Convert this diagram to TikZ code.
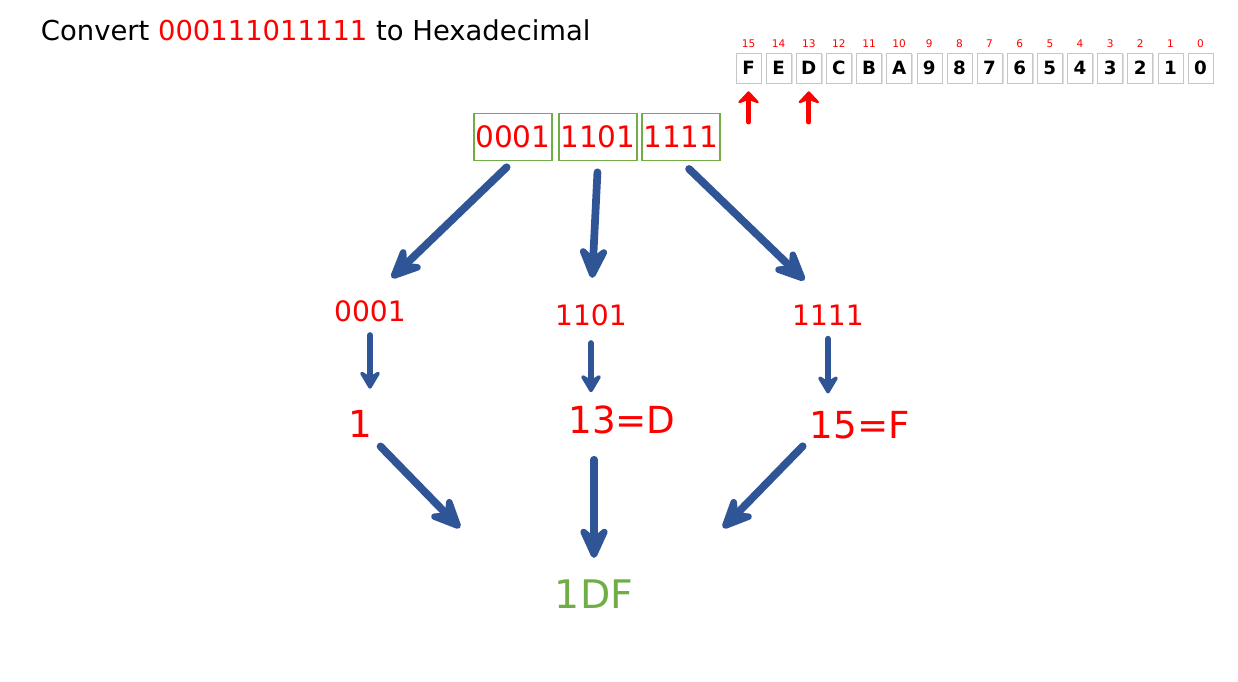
\documentclass[tikz,border=0pt]{standalone}
\usepackage{fontspec}
\setmainfont{DejaVu Sans}
\usetikzlibrary{arrows.meta,shadows}
\definecolor{arrowblue}{RGB}{47,85,151}
\definecolor{boxgreen}{RGB}{112,173,71}

\begin{document}
\begin{tikzpicture}[x=0.025cm,y=-0.025cm,
    big arrow/.style={draw=arrowblue,line width=5.5pt,line cap=round,
      -{Stealth[length=1.05cm,width=0.95cm,inset=0.4cm,round]}},
    small arrow/.style={draw=arrowblue,line width=4.5pt,line cap=round,
      -{Stealth[length=0.55cm,width=0.65cm,inset=0.2cm,round]}},
    up arrow/.style={draw=red,line width=3.5pt,line cap=round,
      -{Stealth[length=0.35cm,width=0.65cm,inset=0.12cm,round]}},
    nibble/.style={text=red,font=\fontsize{20}{24}\selectfont,inner sep=1pt},
    nibble box/.style={nibble,font=\fontsize{21}{24}\selectfont,draw=boxgreen,thick,
      minimum width=1.95cm,minimum height=1.18cm},
    result/.style={text=red,font=\fontsize{26.5}{30}\selectfont,inner sep=1pt},
    hex box/.style={draw=gray!45,fill=white,minimum width=0.625cm,minimum height=0.75cm,
      drop shadow={shadow xshift=1pt,shadow yshift=-1pt,opacity=0.25},
      inner sep=0pt,font=\bfseries\fontsize{13}{14}\selectfont},
    ]
    \useasboundingbox (0,0) rectangle (1238,682);
    \node[anchor=west,font=\fontsize{19.5}{23}\selectfont] (title) at (36,30)
      {Convert \textcolor{red}{000111011111} to Hexadecimal};
    % hex digit table
    \foreach \d [count=\i from 0] in {0,1,2,3,4,5,6,7,8,9,A,B,C,D,E,F} {
      \node[hex box] (hx\i) at (1200.5-30.13*\i,68) {\d};
      \node[text=red,font=\fontsize{7.5}{8}\selectfont] (ix\i) at (1200.5-30.13*\i,44) {\i};
    }
    \coordinate (pF) at (hx15.south |- 0,122);
    \coordinate (pD) at (hx13.south |- pF);
    \draw[up arrow,shorten >=0.2cm] (pF) -- (hx15.south);
    \draw[up arrow,shorten >=0.2cm] (pD) -- (hx13.south);
    % groups of four
    \node[nibble box] (g1) at (513,137) {0001};
    \node[nibble box] (g2) at (598,137) {1101};
    \node[nibble box] (g3) at (681,137) {1111};
    \node[nibble] (c1) at (370,311) {0001};
    \node[nibble] (c2) at (591,315) {1101};
    \node[nibble] (c3) at (828,315) {1111};
    \node[result] (d1) at (360,424) {1};
    \node[result] (d2) at (622,420) {13=D};
    \node[result] (d3) at (860,425) {15=F};
    \node[result,font=\fontsize{28}{32}\selectfont,text=boxgreen] (e) at (594,594) {1DF};
    \coordinate (t1) at (460,528);
    \coordinate (t3) at (723,528);
    \draw[big arrow,shorten <=0.22cm,shorten >=0.75cm] (g1.south) -- (c1.north);
    \draw[big arrow,shorten <=0.28cm,shorten >=0.62cm] (g2.south) -- (c2.north);
    \draw[big arrow,shorten <=0.28cm,shorten >=0.82cm] (g3.south) -- (c3.north);
    \draw[small arrow,shorten <=0.3cm,shorten >=0.5cm] (c1.south) -- (c1.south |- d1.north);
    \draw[small arrow,shorten <=0.4cm,shorten >=0.3cm] (c2.south) -- (c2.south |- d2.north);
    \draw[small arrow,shorten <=0.3cm,shorten >=0.4cm] (c3.south) -- (c3.south |- d3.north);
    \draw[big arrow,shorten <=0.25cm] (d1.south east) -- (t1);
    \draw[big arrow,shorten <=0.6cm,shorten >=0.5cm] (d2.south -| e.north) -- (e.north);
    \draw[big arrow,shorten <=0.2cm] (d3.south west) -- (t3);
\end{tikzpicture}
\end{document}
